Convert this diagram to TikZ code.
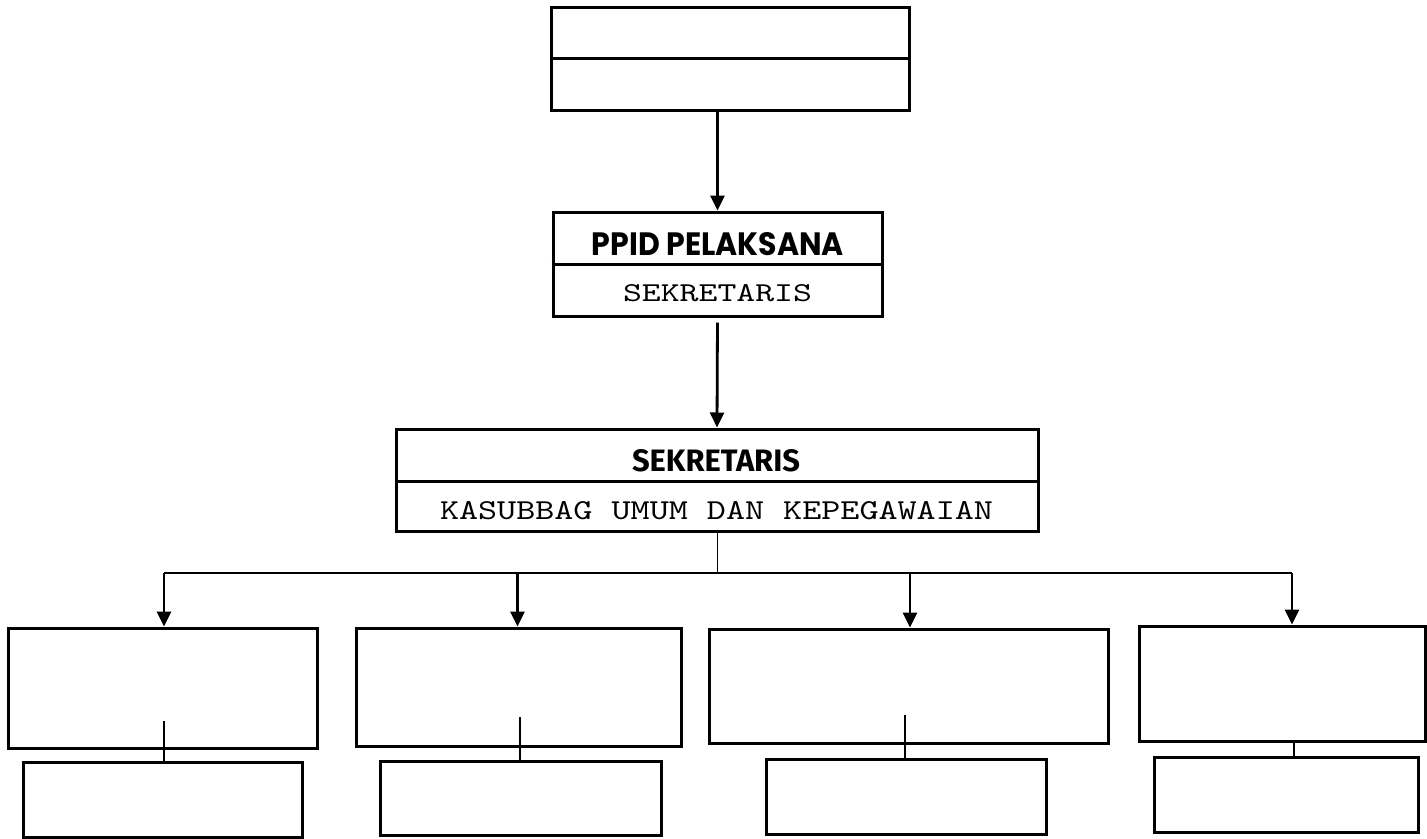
\documentclass[tikz,border=0pt]{standalone}
\usepackage{fontspec}
\usepackage{graphicx}
\usetikzlibrary{arrows.meta}
\newfontfamily\gothicfont{Poppins}
\newfontfamily\condfont{Fira Sans}
\begin{document}
\begin{tikzpicture}[x=1pt,y=-1pt,
  box/.style={draw=black,line width=3pt,inner sep=0pt,fill=white},
  divider/.style={line width=3pt},
  arr/.style={line width=2.8pt,-{Triangle[length=15pt,width=14pt]}},
  link/.style={line width=2.5pt},
  busline/.style={line width=1.4pt},
  thinline/.style={line width=1pt},
  label/.style={inner sep=0pt,text=black}]
\useasboundingbox (0,0) rectangle (1427,838);
% top box
\node[box,minimum width=358pt,minimum height=103pt] (top) at (730,58.5) {};
\draw[divider] (top.west |- 0,58.5) -- (top.east |- 0,58.5);
% PPID box
\node[box,minimum width=329pt,minimum height=104pt] (ppid) at (717.5,264) {};
\draw[divider] (ppid.west) -- (ppid.east);
\node[label] (ppidt) at (718,244.5) {\resizebox{252pt}{23pt}{\gothicfont\bfseries PPID PELAKSANA}};
\node[label] (ppids) at (717.5,293.5) {\resizebox{189pt}{17pt}{\ttfamily SEKRETARIS}};
% Sekretaris box
\node[box,minimum width=642pt,minimum height=102pt] (sek) at (717,480) {};
\draw[divider] (sek.west |- 0,481) -- (sek.east |- 0,481);
\node[label] (sekt) at (716,461) {\resizebox{168pt}{22pt}{\condfont\bfseries SEKRETARIS}};
\node[label] (seks) at (716.5,511) {\resizebox{553pt}{18pt}{\ttfamily KASUBBAG UMUM DAN KEPEGAWAIAN}};
% arrows between top levels
\draw[arr] (ppid.north |- top.south) -- (ppid.north);
\draw[arr,shorten <=5pt] (ppid.south) -- (sek.north);
% bottom boxes
\node[box,minimum width=309pt,minimum height=120pt] (b1) at (162.5,688) {};
\node[box,minimum width=325pt,minimum height=118pt] (b2) at (518.5,687) {};
\node[box,minimum width=399pt,minimum height=114pt] (b3) at (908.5,686) {};
\node[box,minimum width=286pt,minimum height=115pt] (b4) at (1282,683.5) {};
\node[box,minimum width=279pt,minimum height=75pt] (s1) at (162.5,799.5) {};
\node[box,minimum width=281pt,minimum height=74pt] (s2) at (520.5,798) {};
\node[box,minimum width=280pt,minimum height=75pt] (s3) at (906,796.5) {};
\node[box,minimum width=264pt,minimum height=75pt] (s4) at (1286,794.5) {};
% bus
\coordinate (bus) at (717,573);
\coordinate (j1) at (164,573);
\coordinate (j2) at (517.5,573);
\coordinate (j3) at (910,573);
\coordinate (j4) at (1292,573);
\draw[thinline] (sek.south) -- (sek.south |- bus);
\draw[busline] (j1) -- (j4);
\draw[arr] (j1) -- (j1 |- b1.north);
\draw[arr] (j2) -- (j2 |- b2.north);
\draw[arr] (j3) -- (j3 |- b3.north);
\draw[arr] (j4) -- (j4 |- b4.north);
% inner connectors to sub boxes
\coordinate (c1) at (164,721);
\coordinate (c2) at (520,717);
\coordinate (c3) at (905,715);
\coordinate (c4) at (1294,741);
\draw[link] (c1) -- (c1 |- s1.north);
\draw[link] (c2) -- (c2 |- s2.north);
\draw[link] (c3) -- (c3 |- s3.north);
\draw[link] (c4) -- (c4 |- s4.north);
\end{tikzpicture}
\end{document}
